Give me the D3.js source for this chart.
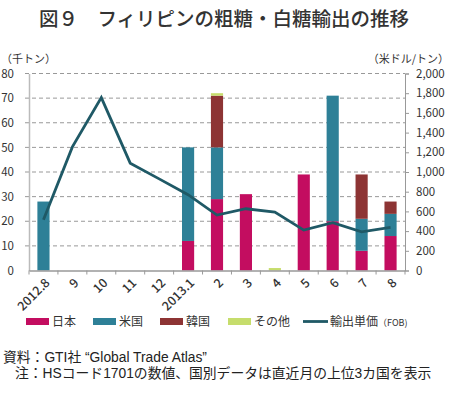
<!DOCTYPE html>
<html>
<head>
<meta charset="utf-8">
<script src="https://cdn.jsdelivr.net/npm/d3@7"></script>
<style>
  body { margin: 0; background: #fff; }
  text { font-family: "Noto Sans CJK JP", "Noto Sans", sans-serif; fill: #222; }
  text.note { font-family: "Liberation Sans", "Noto Sans CJK JP", sans-serif; }
</style>
</head>
<body>
<div id="chart"></div>
<script>
// months on the x axis
const months = ["2012.8", "9", "10", "11", "12", "2013.1", "2", "3", "4", "5", "6", "7", "8"];

// export volume by destination (thousand tons)
const japan = [0, 0, 0, 0, 0, 12, 29, 31, 0, 39, 20, 8, 14];
const usa   = [28, 0, 0, 0, 0, 38, 21, 0, 0, 0, 51, 13, 9];
const korea = [0, 0, 0, 0, 0, 0, 21, 0, 0, 0, 0, 18, 5];
const other = [0, 0, 0, 0, 0, 0, 1, 0, 1, 0, 0, 0, 0];

// export unit price FOB (US$/ton)
const price = [515, 1255, 1755, 1090, 930, 770, 563, 627, 593, 410, 485, 393, 437];

const leftTicks = [0, 10, 20, 30, 40, 50, 60, 70, 80];
const rightTicks = [0, 200, 400, 600, 800, 1000, 1200, 1400, 1600, 1800, 2000];

const seriesNames = ["日本", "米国", "韓国", "その他"];
const colors = ["#c30d60", "#2e8097", "#8d3434", "#c6dd6c"];
const lineColor = "#1f5966";

const w = 450, h = 393;
const m = { top: 73.5, right: 45, bottom: 122.5, left: 29 };

const svg = d3.select("#chart").append("svg")
    .attr("width", w)
    .attr("height", h);

// title
svg.append("text")
    .attr("x", 224)
    .attr("y", 26)
    .attr("text-anchor", "middle")
    .attr("font-size", 19.5)
    .attr("font-weight", 500)
    .style("fill", "#333")
    .text("図９　フィリピンの粗糖・白糖輸出の推移");

const x = d3.scaleBand()
    .domain(months)
    .range([m.left, w - m.right])
    .paddingInner(0.58)
    .paddingOuter(0.29);

const xOuter = d3.scaleBand().domain(months).range([m.left, w - m.right]);

const yL = d3.scaleLinear().domain([0, 80]).range([h - m.bottom, m.top]);
const yR = d3.scaleLinear().domain([0, 2000]).range([h - m.bottom, m.top]);

// dashed grid
svg.append("g").selectAll("line")
    .data(leftTicks.slice(1))
    .enter().append("line")
    .attr("x1", m.left - 4)
    .attr("x2", w - m.right)
    .attr("y1", d => yL(d))
    .attr("y2", d => yL(d))
    .attr("stroke", "#999")
    .attr("stroke-width", 1)
    .attr("stroke-dasharray", "4,3");

// stacked bars
const rows = months.map((mo, i) => ({ month: mo, "日本": japan[i], "米国": usa[i], "韓国": korea[i], "その他": other[i] }));
const stack = d3.stack().keys(seriesNames)(rows);

svg.append("g").selectAll("g")
    .data(stack)
    .enter().append("g")
    .attr("fill", (d, i) => colors[i])
    .selectAll("rect")
    .data(d => d.filter(p => p[1] - p[0] > 0))
    .enter().append("rect")
    .attr("x", d => x(d.data.month))
    .attr("width", x.bandwidth())
    .attr("y", d => yL(d[1]))
    .attr("height", d => yL(d[0]) - yL(d[1]));

// left axis
const leftAxis = svg.append("g")
    .attr("transform", "translate(" + m.left + ",0)")
    .call(d3.axisLeft(yL).tickValues(leftTicks).tickSize(0).tickPadding(15));
leftAxis.select(".domain").attr("stroke", "#bbb").attr("stroke-width", 1.5);
leftAxis.selectAll("text").attr("font-size", 11.5).style("fill", "#333");

// right axis
const rightAxis = svg.append("g")
    .attr("transform", "translate(" + (w - m.right) + ",0)")
    .call(d3.axisRight(yR).tickValues(rightTicks).tickSize(4).tickPadding(7).tickFormat(d3.format(",")));
rightAxis.select(".domain").attr("stroke", "#999");
rightAxis.selectAll(".tick line").attr("stroke", "#999");
rightAxis.selectAll("text").attr("font-size", 11.5).style("fill", "#333");

// x axis
const xAxis = svg.append("g")
    .attr("transform", "translate(0," + (h - m.bottom) + ")")
    .call(d3.axisBottom(xOuter).tickSize(0).tickFormat(d => d));
xAxis.select(".domain").attr("stroke", "#999").attr("stroke-width", 1.5);
xAxis.selectAll("text")
    .attr("font-size", 12.5)
    .attr("font-weight", 500)
    .style("fill", "#333")
    .attr("text-anchor", "end")
    .attr("dx", 0)
    .attr("dy", 0)
    .attr("transform", "translate(5,11) rotate(-45)");

// category boundary ticks
svg.append("g").selectAll("line")
    .data(months.concat(["end"]))
    .enter().append("line")
    .attr("x1", (d, i) => m.left + i * xOuter.step())
    .attr("x2", (d, i) => m.left + i * xOuter.step())
    .attr("y1", h - m.bottom)
    .attr("y2", h - m.bottom + 4)
    .attr("stroke", "#999");

// price line
const line = d3.line()
    .x((d, i) => xOuter(months[i]) + xOuter.bandwidth() / 2)
    .y(d => yR(d));

svg.append("path")
    .datum(price)
    .attr("fill", "none")
    .attr("stroke", lineColor)
    .attr("stroke-width", 2.8)
    .attr("stroke-linejoin", "miter")
    .attr("d", line);

// unit labels
svg.append("text")
    .attr("x", 1)
    .attr("y", 63)
    .attr("font-size", 11)
    .style("fill", "#333")
    .text("（千トン）");

svg.append("text")
    .attr("x", 449)
    .attr("y", 63)
    .attr("text-anchor", "end")
    .attr("font-size", 11)
    .style("fill", "#333")
    .text("（米ドル/トン）");

// legend
const legendX = [26, 93, 160, 228];
const legend = svg.append("g");
seriesNames.forEach((name, i) => {
    legend.append("rect")
        .attr("x", legendX[i])
        .attr("y", 318)
        .attr("width", 23)
        .attr("height", 7)
        .attr("fill", colors[i]);
    legend.append("text")
        .attr("x", legendX[i] + 26)
        .attr("y", 326)
        .attr("font-size", 12)
        .style("fill", "#333")
        .text(name);
});
legend.append("line")
    .attr("x1", 303)
    .attr("x2", 328)
    .attr("y1", 321.5)
    .attr("y2", 321.5)
    .attr("stroke", lineColor)
    .attr("stroke-width", 2.8);
const lt = legend.append("text")
    .attr("x", 330)
    .attr("y", 326)
    .attr("font-size", 12)
    .style("fill", "#333")
    .text("輸出単価");
lt.append("tspan").attr("font-size", 9).text("（FOB)");

// notes
svg.append("text")
    .attr("class", "note")
    .attr("x", 3)
    .attr("y", 362)
    .attr("font-size", 13.8)
    .style("fill", "#222")
    .text("資料：GTI社 “Global Trade Atlas”");

svg.append("text")
    .attr("class", "note")
    .attr("x", 15)
    .attr("y", 378)
    .attr("font-size", 13.8)
    .style("fill", "#222")
    .text("注：HSコード1701の数値、国別データは直近月の上位3カ国を表示");
</script>
</body>
</html>
